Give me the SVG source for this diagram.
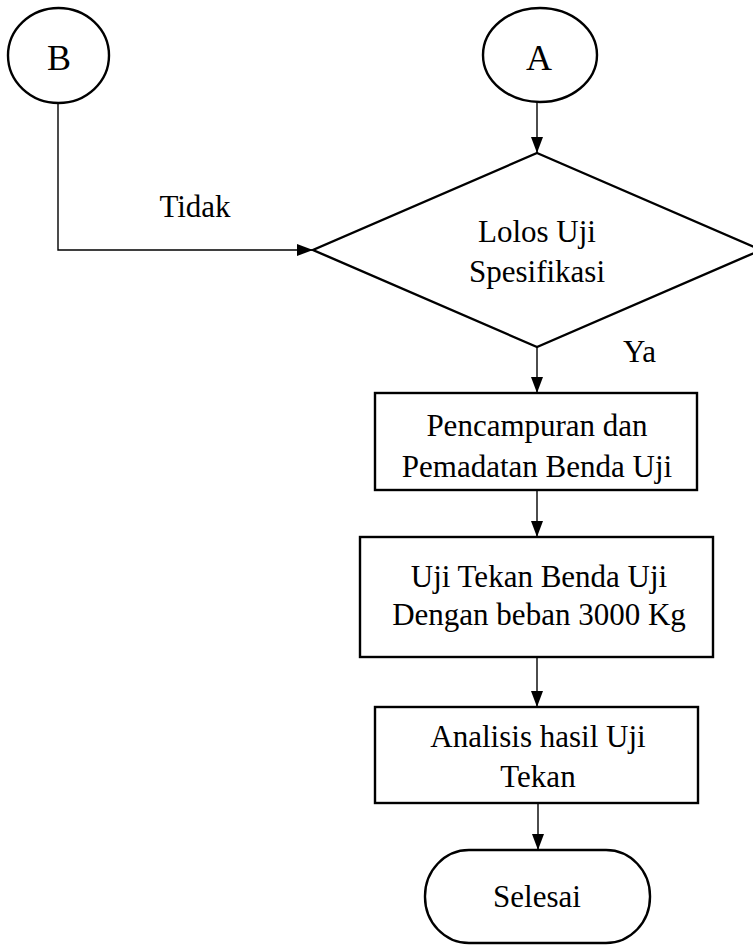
<svg xmlns="http://www.w3.org/2000/svg" width="753" height="945" viewBox="0 0 753 945">
<style>
.shape{fill:#fff;stroke:#000;stroke-width:2.4}
.conn{fill:none;stroke:#000;stroke-width:1.4}
text{font-family:"Liberation Serif","Times New Roman",serif;font-size:31px;fill:#000;text-anchor:middle}
.big{font-size:36px}
</style>
<defs>
<marker id="arr" markerUnits="userSpaceOnUse" markerWidth="16" markerHeight="12" refX="16" refY="6" orient="auto">
<path d="M0,0 L16,6 L0,12 z" fill="#000"/>
</marker>
</defs>
<rect width="753" height="945" fill="#fff"/>
<g id="connectors">
<path class="conn" d="M537 102 V153" marker-end="url(#arr)"/>
<path class="conn" d="M58 103 V250 H313" marker-end="url(#arr)"/>
<path class="conn" d="M537 347 V393" marker-end="url(#arr)"/>
<path class="conn" d="M537 490 V537" marker-end="url(#arr)"/>
<path class="conn" d="M537 657 V707" marker-end="url(#arr)"/>
<path class="conn" d="M538 803 V850" marker-end="url(#arr)"/>
<text x="195" y="217">Tidak</text>
<text x="623" y="362" style="text-anchor:start">Ya</text>
</g>
<g id="nodeB">
<ellipse class="shape" cx="58.5" cy="55.5" rx="50.5" ry="47.5"/>
<text class="big" x="59" y="70">B</text>
</g>
<g id="nodeA">
<ellipse class="shape" cx="540" cy="55" rx="57" ry="47"/>
<text class="big" x="539" y="70">A</text>
</g>
<g id="decision">
<polygon class="shape" points="537,153 761,250 537,347 313,250"/>
<text x="537" y="242">Lolos Uji</text>
<text x="537" y="282">Spesifikasi</text>
</g>
<g id="box1">
<rect class="shape" x="375" y="393" width="322" height="97"/>
<text x="537" y="436">Pencampuran dan</text>
<text x="537" y="477">Pemadatan Benda Uji</text>
</g>
<g id="box2">
<rect class="shape" x="360" y="537" width="353" height="120"/>
<text x="539" y="587">Uji Tekan Benda Uji</text>
<text x="539" y="625">Dengan beban 3000 Kg</text>
</g>
<g id="box3">
<rect class="shape" x="375" y="707" width="323" height="96"/>
<text x="538" y="747">Analisis hasil Uji</text>
<text x="538" y="787">Tekan</text>
</g>
<g id="terminal">
<rect class="shape" x="425" y="850" width="225" height="93" rx="44" ry="46"/>
<text x="537" y="907">Selesai</text>
</g>
</svg>
